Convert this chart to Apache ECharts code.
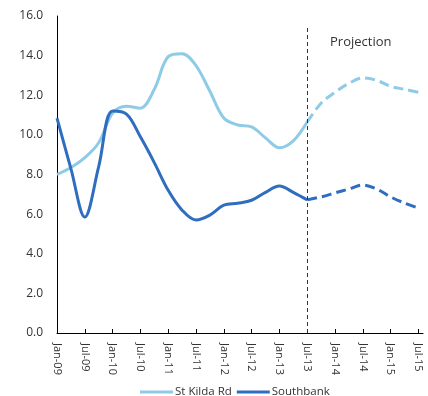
<!DOCTYPE html>
<html>
<head>
<meta charset="utf-8">
<script src="https://cdn.jsdelivr.net/npm/echarts@6/dist/echarts.min.js"></script>
<style>
  html, body { margin: 0; padding: 0; background: #fff; }
  #chart { width: 428px; height: 396px; }
</style>
</head>
<body>
<div id="chart"></div>
<script>
// quarterly points, months since Jan-09
const months = [0, 3, 6, 9, 12, 15, 18, 21, 24, 27, 30, 33, 36, 39, 42, 45, 48, 51, 54, 57, 60, 63, 66, 69, 72, 75, 78];
const stKilda = [8.0, 8.35, 8.85, 9.6, 11.1, 11.45, 11.35, 12.3, 13.95, 14.1, 13.5, 12.2, 10.85, 10.5, 10.4, 9.85, 9.35, 9.7, 10.65, 11.6, 12.15, 12.6, 12.87, 12.75, 12.45, 12.3, 12.15];
const southbank = [10.85, 8.3, 5.85, 8.4, 11.2, 11.05, 9.9, 8.6, 7.2, 6.2, 5.7, 5.95, 6.45, 6.55, 6.7, 7.1, 7.42, 7.1, 6.72, 6.87, 7.07, 7.27, 7.47, 7.27, 6.87, 6.56, 6.3];
const tickLabels = ['Jan-09', 'Jul-09', 'Jan-10', 'Jul-10', 'Jan-11', 'Jul-11', 'Jan-12', 'Jul-12', 'Jan-13', 'Jul-13', 'Jan-14', 'Jul-14', 'Jan-15', 'Jul-15'];
const projectionStart = 54; // Jul-13

const lightBlue = '#8ECBE6';
const darkBlue = '#2E6DBF';
const font = 'Open Sans';

function pairs(vals, from, to) {
  const out = [];
  months.forEach((m, i) => {
    if (m >= from && m <= to) out.push([m, vals[i]]);
  });
  return out;
}

const myChart = echarts.init(document.getElementById('chart'));
const option = {
  animation: false,
  textStyle: { fontFamily: font },
  grid: { left: 57, right: 5, top: 16, bottom: 63 },
  legend: {
    top: 386,
    left: 140,
    padding: 0,
    data: ['St Kilda Rd', 'Southbank'],
    icon: 'rect',
    itemWidth: 33,
    itemHeight: 3,
    itemGap: 5,
    textStyle: { fontFamily: font, fontSize: 11.5, color: '#333', padding: [0, 0, 0, -3] },
  },
  xAxis: {
    type: 'value',
    min: 0,
    max: 79,
    interval: 6,
    splitLine: { show: false },
    axisLine: { lineStyle: { color: '#000', width: 1 } },
    axisTick: { inside: true, length: 4, lineStyle: { color: '#000' } },
    axisLabel: {
      rotate: -90,
      margin: 10,
      fontSize: 11,
      color: '#333',
      fontFamily: font,
      showMaxLabel: false,
      formatter: function (v) {
        return v % 6 === 0 ? (tickLabels[v / 6] || '') : '';
      },
    },
  },
  yAxis: {
    type: 'value',
    min: 0,
    max: 16,
    interval: 2,
    splitLine: { show: false },
    axisLine: { show: true, lineStyle: { color: '#000', width: 1 } },
    axisTick: { show: false },
    axisLabel: {
      fontSize: 12,
      color: '#333',
      fontFamily: font,
      margin: 14,
      formatter: function (v) { return v.toFixed(1); },
    },
  },
  graphic: [
    {
      type: 'text',
      left: 330,
      top: 36,
      style: { text: 'Projection', fontSize: 13, fontFamily: font, fill: '#333' },
    },
  ],
  series: [
    {
      name: 'St Kilda Rd',
      type: 'line',
      smooth: 0.35,
      showSymbol: false,
      lineStyle: { color: lightBlue, width: 3 },
      itemStyle: { color: lightBlue },
      data: pairs(stKilda, 0, projectionStart),
      markLine: {
        silent: true,
        symbol: 'none',
        label: { show: false },
        lineStyle: { color: '#333', type: [4, 3], width: 1 },
        data: [[{ coord: [projectionStart, 0] }, { coord: [projectionStart, 15.4] }]],
      },
    },
    {
      name: 'Southbank',
      type: 'line',
      smooth: 0.35,
      showSymbol: false,
      lineStyle: { color: darkBlue, width: 3 },
      itemStyle: { color: darkBlue },
      data: pairs(southbank, 0, projectionStart),
    },
    {
      name: 'St Kilda Rd proj',
      type: 'line',
      smooth: 0.35,
      showSymbol: false,
      lineStyle: { color: lightBlue, width: 3, type: [10, 5] },
      data: pairs(stKilda, projectionStart, 78),
    },
    {
      name: 'Southbank proj',
      type: 'line',
      smooth: 0.35,
      showSymbol: false,
      lineStyle: { color: darkBlue, width: 3, type: [10, 5] },
      data: pairs(southbank, projectionStart, 78),
    },
  ],
};
myChart.setOption(option);
</script>
</body>
</html>
